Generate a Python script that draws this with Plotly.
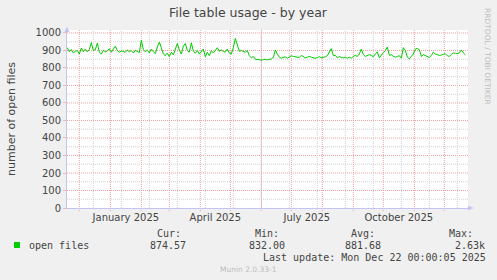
import plotly.graph_objects as go
import pandas as pd

# ---------------- data ----------------
values = [
    916, 893, 905, 886, 895, 900, 880, 914, 893, 908,
    892, 905, 945, 900, 905, 942, 890, 880, 900, 893,
    897, 910, 890, 905, 925, 900, 890, 897, 893, 890,
    903, 893, 899, 886, 901, 895, 888, 958, 905, 893,
    901, 886, 908, 893, 882, 920, 948, 916, 880, 870,
    885, 865, 890, 875, 912, 940, 903, 880, 925, 940,
    900, 890, 944, 897, 884, 900, 880,
    895, 908, 864, 890, 870, 899, 886, 900, 916, 895,
    903, 895, 890, 908, 884, 880, 916, 969, 930, 895,
    900, 895, 890, 900, 870, 858, 866, 850, 848, 846,
    845, 848, 850, 846, 848, 852, 860, 903, 880, 862,
    856, 860, 864, 856, 862, 870, 866, 864, 858, 860,
    872, 865, 858, 862, 866, 862, 858, 855, 860, 864,
    858, 860, 864, 870, 890, 911, 870,
    872, 858, 866, 860, 858, 862, 855, 862, 856, 866,
    872, 866, 880, 908, 876, 866, 870, 876, 872, 864,
    880, 892, 858, 875, 888, 900, 920, 872, 876, 866,
    862, 866, 870, 856, 916, 900, 862, 852, 866, 880,
    908, 912, 905, 866, 876, 872, 868, 860, 872, 890,
    880, 876, 872, 874, 876, 882, 870, 866, 878, 886,
    884, 882, 886, 903, 886, 875,
]
dates = pd.date_range("2024-11-19", periods=len(values), freq="2D")

y_ticks = list(range(0, 1001, 100))
x_label_dates = ["2025-01-16 12:00", "2025-04-16", "2025-07-16 12:00", "2025-10-16 12:00"]
x_label_text = ["January 2025", "April 2025", "July 2025", "October 2025"]
month_starts = pd.date_range("2024-12-01", "2025-12-01", freq="MS")
minor_lines = pd.date_range("2024-12-15", periods=14, freq="28D")

legend_name = "open files"
stat_heads = ["Cur:", "Min:", "Avg:", "Max:"]
stat_vals = ["874.57", "832.00", "881.68", "2.63k"]
last_update = "Last update: Mon Dec 22 00:00:05 2025"

# ---------------- layout geometry (pixels) ----------------
W, H = 497, 280
L, R = 67, 468
T, B = 30, 208
PW, PH = R - L, B - T


def px(x):
    return (x - L) / PW


def py(y):
    return (B - y) / PH


RED = "#F2A2A2"
GRAY = "#D2D2D2"
AXIS = "#C4C4F4"
TXT = "#444444"
MONO = "DejaVu Sans Mono"
SANS = "DejaVu Sans"

fig = go.Figure()
fig.add_trace(go.Scatter(x=dates, y=values, mode="lines",
                         line=dict(color="#00CC00", width=1),
                         hoverinfo="skip", showlegend=False))

shapes = []
# horizontal grid
for v in range(50, 1000, 100):
    shapes.append(dict(type="line", xref="paper", yref="y", x0=0, x1=1, y0=v, y1=v,
                       line=dict(color=GRAY, width=1, dash="1px,1px"), layer="below"))
for v in range(100, 1001, 100):
    shapes.append(dict(type="line", xref="paper", yref="y", x0=0, x1=1, y0=v, y1=v,
                       line=dict(color=RED, width=1, dash="1px,1px"), layer="below"))
# vertical grid
for d in minor_lines:
    shapes.append(dict(type="line", xref="x", yref="paper", x0=d, x1=d, y0=0, y1=1,
                       line=dict(color=GRAY, width=1, dash="1px,1px"), layer="below"))
for d in month_starts:
    shapes.append(dict(type="line", xref="x", yref="paper", x0=d, x1=d, y0=py(211), y1=1,
                       line=dict(color=RED, width=1, dash="1px,1px"), layer="below"))
# axis arrows
shapes.append(dict(type="path", xref="paper", yref="paper",
                   path=f"M {px(64.5)},{py(32)} L {px(67)},{py(26.5)} L {px(69.5)},{py(32)} Z",
                   fillcolor=AXIS, line=dict(width=0)))
shapes.append(dict(type="line", xref="paper", yref="paper", x0=1, x1=px(470), y0=0, y1=0,
                   line=dict(color=AXIS, width=1)))
shapes.append(dict(type="path", xref="paper", yref="paper",
                   path=f"M {px(468)},{py(205.5)} L {px(473.5)},{py(208)} L {px(468)},{py(210.5)} Z",
                   fillcolor=AXIS, line=dict(width=0)))
# legend colour box
shapes.append(dict(type="rect", xref="paper", yref="paper",
                   x0=px(14), x1=px(20), y0=py(242), y1=py(248),
                   fillcolor="#00CC00", line=dict(width=0)))

ann = []


def text(x, y, s, size=10, family=MONO, color=TXT, anchor="left", angle=0):
    ann.append(dict(x=px(x), y=py(y), xref="paper", yref="paper", text=s, showarrow=False,
                    xanchor=anchor, yanchor="middle", textangle=angle,
                    font=dict(family=family, size=size, color=color)))


text(11, 119, "number of open files", size=11, family=SANS, anchor="center", angle=-90)
text(488, 56, "RRDTOOL / TOBI OETIKER", size=7.5, family=SANS, color="#BDBDBD",
     anchor="center", angle=90)
head_x = [155, 253, 349, 447]
val_x = [148, 247, 343, 453]
for hx, h in zip(head_x, stat_heads):
    text(hx, 233, h)
text(26.5, 245.5, legend_name)
for vx, v in zip(val_x, stat_vals):
    text(vx, 245.5, v)
text(261, 257.5, last_update)
text(248, 269, "Munin 2.0.33-1", size=7.5, family=SANS, color="#BBBBBB", anchor="center")

fig.update_layout(
    width=W, height=H,
    margin=dict(l=L, r=W - R, t=T, b=H - B, pad=0),
    paper_bgcolor="#F0F0F0", plot_bgcolor="#FFFFFF",
    title=dict(text="File table usage - by year", x=248 / W, xref="container",
               y=1 - 13 / H, yref="container", xanchor="center", yanchor="middle",
               font=dict(family=SANS, size=12.5, color=TXT)),
    shapes=shapes, annotations=ann, showlegend=False,
    xaxis=dict(type="date", range=["2024-11-18 16:00", "2025-12-24 16:00"],
               tickmode="array", tickvals=x_label_dates, ticktext=x_label_text,
               ticks="", showgrid=False, zeroline=False,
               showline=True, linecolor=AXIS, linewidth=1,
               tickfont=dict(family=SANS, size=10, color=TXT)),
    yaxis=dict(range=[0, 1017], tickmode="array", tickvals=y_ticks,
               ticks="outside", ticklen=3, tickcolor="#F2B8B8",
               showgrid=False, zeroline=False,
               showline=True, linecolor=AXIS, linewidth=1,
               tickfont=dict(family=SANS, size=10, color=TXT)),
)

fig.write_html("out.html")
